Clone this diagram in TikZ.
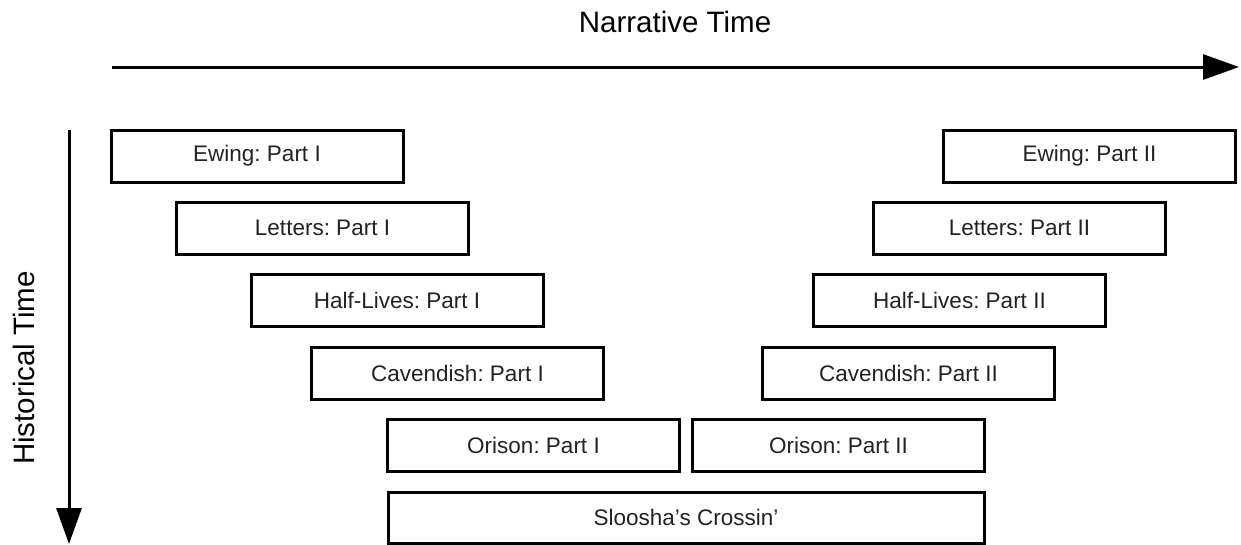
\documentclass[tikz,border=0pt]{standalone}
\usepackage{fontspec}
\setmainfont{Liberation Sans}
\usetikzlibrary{arrows.meta}
\definecolor{txt}{HTML}{222222}
\frenchspacing
\begin{document}
\begin{tikzpicture}[x=1pt,y=-1pt,
  part/.style={draw=black, line width=3pt, minimum width=292pt, minimum height=52pt,
    inner sep=0pt, outer sep=0pt, text=txt, font=\fontsize{22.5}{26}\selectfont\frenchspacing},
  axis/.style={line width=3pt, -{Triangle[length=36pt,width=25pt]}},
  axislabel/.style={text=black, font=\fontsize{29.5}{34}\selectfont, inner sep=0pt}]
\useasboundingbox (0,0) rectangle (1241,544);
% axes
\coordinate (hs) at (112,67);
\coordinate (he) at (1239,67);
\coordinate (vs) at (69,130);
\coordinate (ve) at (69,544);
\draw[axis] (hs) -- (he);
\draw[axis] (vs) -- (ve);
\node[axislabel] (nt) at (675,22) {Narrative Time};
\node[axislabel, rotate=90] (ht) at (24,368) {Historical Time};
% boxes
\node[part] (e1) at (257,156) {Ewing: Part I};
\node[part] (e2) at (1089.5,156) {Ewing: Part II};
\node[part] (l1) at (322.5,228) {Letters: Part I};
\node[part] (l2) at (1019.5,228) {Letters: Part II};
\node[part] (h1) at (397,300) {Half-Lives: Part I};
\node[part] (h2) at (959.5,300) {Half-Lives: Part II};
\node[part] (c1) at (457.5,373) {Cavendish: Part I};
\node[part] (c2) at (908.5,373) {Cavendish: Part II};
\node[part] (o1) at (533.5,445) {Orison: Part I};
\node[part] (o2) at (838.5,445) {Orison: Part II};
\node[part, minimum width=596pt, minimum height=51pt] (s) at (686,517.5) {Sloosha’s Crossin’};
\end{tikzpicture}
\end{document}
